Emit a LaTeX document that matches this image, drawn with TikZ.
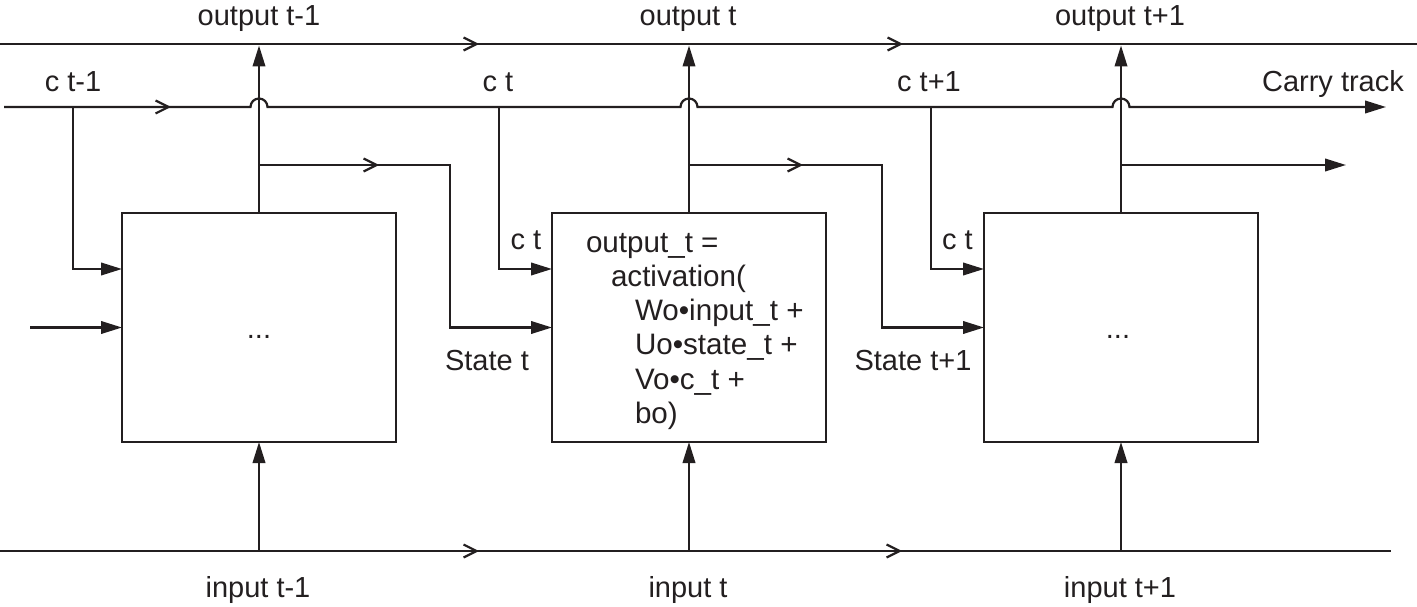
\documentclass[tikz,border=0pt]{standalone}
\usepackage{fontspec}
\setmainfont{Liberation Sans}
\usetikzlibrary{arrows.meta,decorations.markings}
\definecolor{ink}{HTML}{231F20}
\tikzset{
  chv/.tip={Straight Barb[length=13pt,width=13pt]},
  ln/.style={draw=ink,line width=2.2pt},
  tipline/.style={ln,-{Triangle[length=21pt,width=12.5pt]}},
  box/.style={draw=ink,line width=2.2pt,minimum width=274pt,minimum height=229pt,inner sep=0pt,outer sep=0pt},
  lbl/.style={text=ink,font=\fontsize{29pt}{34.3pt}\selectfont,inner sep=0pt,outer sep=0pt,anchor=base},
  frm/.style={lbl,font=\fontsize{29.6pt}{34.3pt}\selectfont,anchor=base west},
  chevone/.style={decoration={markings,mark=at position #1 with {\arrow[ink]{chv}}},postaction=decorate},
  chevtwo/.style 2 args={decoration={markings,mark=at position #1 with {\arrow[ink]{chv}},mark=at position #2 with {\arrow[ink]{chv}}},postaction=decorate}
}
\begin{document}
\begin{tikzpicture}[x=1pt,y=-1pt]
\useasboundingbox (0,0) rectangle (1417,607);
% boxes
\node[box] (b1) at (259,327.5) {};
\node[box] (b2) at (689,327.5) {};
\node[box] (b3) at (1121,327.5) {};
% track coordinates
\coordinate (tl) at (0,44);
\coordinate (tr) at (1417,44);
\coordinate (cl) at (4,107);
\coordinate (cr) at (1386,107);
\coordinate (bl) at (0,551);
\coordinate (br) at (1391,551);
\coordinate (o1) at (259,45.5);
\coordinate (o2) at (689,45.5);
\coordinate (o3) at (1121,45.5);
\coordinate (i1) at (259,551);
\coordinate (i2) at (689,551);
\coordinate (i3) at (1121,551);
\coordinate (c1) at (73,107);
\coordinate (c2) at (499,107);
\coordinate (c3) at (931,107);
\coordinate (s1) at (259,165);
\coordinate (s2) at (689,165);
\coordinate (s3) at (1121,165);
\coordinate (k1) at (450,165);
\coordinate (k2) at (882,165);
\coordinate (send) at (1346,165);
\coordinate (in0) at (30,327.5);
% output track
\draw[ln,chevtwo={479pt}{903pt}] (tl) -- (tr);
% input track
\draw[ln,chevtwo={479pt}{902pt}] (bl) -- (br);
% carry track with hops
\draw[tipline,chevone=167pt] (cl) -- (250.5,107) arc[start angle=180,end angle=360,radius=8.5]
  -- (680.5,107) arc[start angle=180,end angle=360,radius=8.5]
  -- (1112.5,107) arc[start angle=180,end angle=360,radius=8.5] -- (cr);
% outputs
\draw[tipline] (b1.north) -- (o1);
\draw[tipline] (b2.north) -- (o2);
\draw[tipline] (b3.north) -- (o3);
% inputs
\draw[tipline] (i1) -- (b1.south);
\draw[tipline] (i2) -- (b2.south);
\draw[tipline] (i3) -- (b3.south);
% carry drops
\draw[tipline] (c1) |- ([yshift=58.5pt]b1.west);
\draw[tipline] (c2) |- ([yshift=58.5pt]b2.west);
\draw[tipline] (c3) |- ([yshift=58.5pt]b3.west);
% state lines
\draw[tipline] (in0) -- (b1.west);
\draw[tipline,chevone=120pt] (s1) -- (k1) |- (b2.west);
\draw[tipline,chevone=114pt] (s2) -- (k2) |- (b3.west);
\draw[tipline] (s3) -- (send);
% labels
\node[lbl] (lo1) at (259,26) {output t-1};
\node[lbl] (lo2) at (688,26) {output t};
\node[lbl] (lo3) at (1120,26) {output t+1};
\node[lbl] (lc1) at (73,92) {c t-1};
\node[lbl] (lc2) at (498,92) {c t};
\node[lbl] (lc3) at (929,92) {c t+1};
\node[lbl] (lcarry) at (1333,92) {Carry track};
\node[lbl] (lct2) at (526,249) {c t};
\node[lbl] (lct3) at (957.5,249) {c t};
\node[lbl] (ls2) at (487,370) {State t};
\node[lbl] (ls3) at (913,370) {State t+1};
\node[lbl] (li1) at (258,597) {input t-1};
\node[lbl] (li2) at (688,597) {input t};
\node[lbl] (li3) at (1120,597) {input t+1};
\node[lbl] (d1) at (259,338) {...};
\node[lbl] (d3) at (1118,338) {...};
% formula
\node[frm] (e1) at (586,252) {output\_t =};
\node[frm] (e2) at (611,286.3) {activation(};
\node[frm] (e3) at (635,320.6) {Wo•input\_t +};
\node[frm] (e4) at (635,354.9) {Uo•state\_t +};
\node[frm] (e5) at (635,389.2) {Vo•c\_t +};
\node[frm] (e6) at (635,423.5) {bo)};
\end{tikzpicture}
\end{document}
